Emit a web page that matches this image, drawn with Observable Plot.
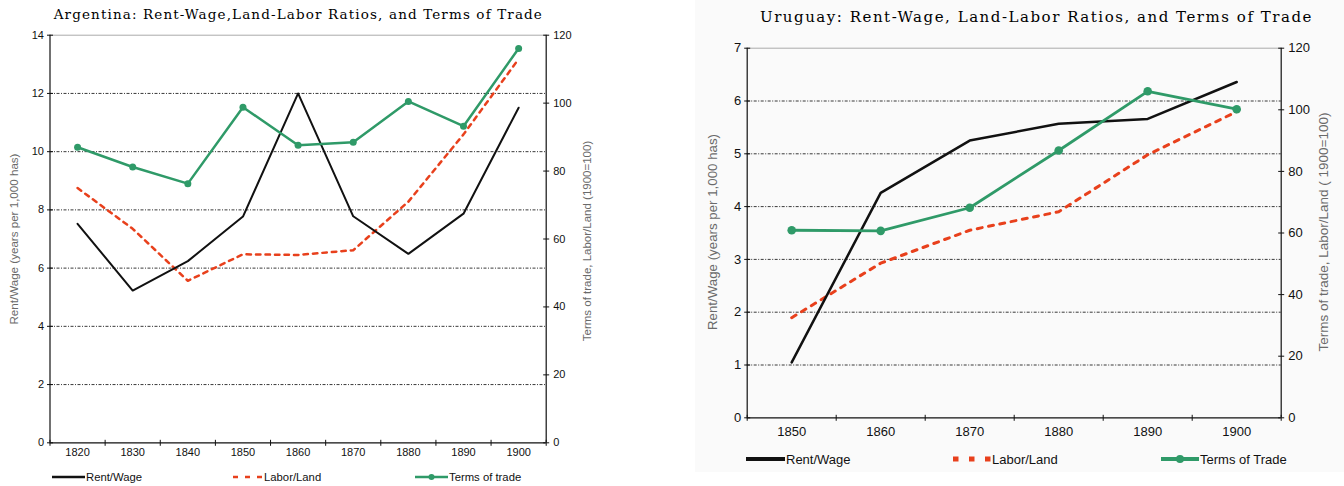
<!DOCTYPE html>
<html><head><meta charset="utf-8">
<script src="https://cdn.jsdelivr.net/npm/d3@7"></script>
<script src="https://cdn.jsdelivr.net/npm/@observablehq/plot@0.6"></script>
<style>
body{margin:0;background:#fff;width:1344px;height:486px;position:relative;overflow:hidden;font-family:"Liberation Sans",Arial,sans-serif;}
.abs{position:absolute;}
.title{font-family:"DejaVu Serif","Liberation Serif",serif;color:#000;white-space:nowrap;line-height:1;}
.leg{position:absolute;display:flex;align-items:center;white-space:nowrap;color:#111;}
.leg svg{display:block;}
.ylab{position:absolute;white-space:nowrap;line-height:1;color:#6a6a6a;transform:translate(-50%,-50%) rotate(-90deg);}
</style></head><body>
<div class="abs" style="left:695px;top:0;width:649px;height:472px;background:#fafafa"></div>
<div id="titleL" class="abs title" style="font-size:13.5px;">Argentina: Rent-Wage,Land-Labor Ratios, and Terms of Trade</div>
<div id="titleR" class="abs title" style="font-size:15px;">Uruguay: Rent-Wage, Land-Labor Ratios, and Terms of Trade</div>
<div id="chartL" class="abs" style="left:0;top:24px;"></div>
<div id="chartR" class="abs" style="left:690px;top:36px;"></div>
<div id="labels"></div>
<div id="legend"></div>
<script>
// ---------- data ----------
const argYears      = [1820, 1830, 1840, 1850, 1860, 1870, 1880, 1890, 1900];
const argRentWage   = [7.52, 5.23, 6.24, 7.77, 12.0, 7.78, 6.49, 7.87, 11.51];
const argLaborLand  = [75.0, 63.0, 47.7, 55.5, 55.3, 56.7, 71.0, 90.8, 113.0];
const argTerms      = [87.0, 81.2, 76.3, 98.8, 87.6, 88.5, 100.5, 93.2, 116.1];
const argLeftTicks  = [0, 2, 4, 6, 8, 10, 12, 14];
const argRightTicks = [0, 20, 40, 60, 80, 100, 120];

const uruYears      = [1850, 1860, 1870, 1880, 1890, 1900];
const uruRentWage   = [1.05, 4.26, 5.25, 5.57, 5.66, 6.36];
const uruLaborLand  = [32.5, 50.2, 60.9, 66.9, 85.4, 99.4];
const uruTerms      = [60.9, 60.7, 68.2, 86.8, 106.0, 100.2];
const uruLeftTicks  = [0, 1, 2, 3, 4, 5, 6, 7];
const uruRightTicks = [0, 20, 40, 60, 80, 100, 120];

const leftLabel = "Rent/Wage (years per 1,000 has)";
const argRightLabel = "Terms of trade, Labor/Land (1900=100)";
const uruRightLabel = "Terms of trade, Labor/Land ( 1900=100)";

const GREEN = "#2f9a68", RED = "#e8401c", BLACK = "#111";

const vline = {draw(ctx, size){const r = Math.sqrt(size/Math.PI); ctx.moveTo(0,-r); ctx.lineTo(0,r);}};
const hline = {draw(ctx, size){const r = Math.sqrt(size/Math.PI); ctx.moveTo(-r,0); ctx.lineTo(r,0);}};

function chart(c){
  const yMax = c.leftTicks[c.leftTicks.length-1];
  const rMax = c.rightTicks[c.rightTicks.length-1];
  const toLeft = v => v * yMax / rMax;
  const x0 = c.years[0] - 5, x1 = c.years[c.years.length-1] + 5;
  const bounds = [...c.years.map(y => y - 5), x1];
  const rows = c.years.map((yr, i) => ({yr, rw: c.rw[i], ll: toLeft(c.ll[i]), tt: toLeft(c.tt[i])}));
  const grid = c.leftTicks.filter(t => t > 0 && t < yMax);
  return Plot.plot({
    width: c.width, height: c.height,
    marginLeft: c.ml, marginRight: c.mr, marginTop: c.mt, marginBottom: c.mb,
    x: {type: "linear", domain: [x0, x1], axis: null},
    y: {domain: [0, yMax], axis: null},
    style: {fontFamily: "'Liberation Sans', Arial, sans-serif", fontSize: c.fs + "px", color: "#111", background: "transparent", overflow: "visible"},
    marks: [
      Plot.ruleY(grid, {stroke: "#222", strokeWidth: 0.9, strokeDasharray: "3,1.5,1,1.5"}),
      Plot.ruleY([yMax], {stroke: "#aaa", strokeWidth: 1}),
      Plot.ruleY([0], {stroke: BLACK, strokeWidth: 1.2}),
      Plot.ruleX([x0, x1], {stroke: BLACK, strokeWidth: 1.2}),
      Plot.dot(c.leftTicks, {x: x0, y: d => d, symbol: hline, r: 3, stroke: BLACK, fill: "none", strokeWidth: 1}),
      Plot.dot(c.rightTicks, {x: x1, y: d => toLeft(d), symbol: hline, r: 3, stroke: BLACK, fill: "none", strokeWidth: 1}),
      Plot.dot(bounds, {x: d => d, y: 0, symbol: vline, r: 3, stroke: BLACK, fill: "none", strokeWidth: 1}),
      Plot.axisY(c.leftTicks, {anchor: "left", tickSize: 0, tickPadding: 6, label: null, tickFormat: d => String(d)}),
      Plot.axisY(c.rightTicks.map(toLeft), {anchor: "right", tickSize: 0, tickPadding: 7, label: null, tickFormat: d => String(Math.round(d * rMax / yMax))}),
      Plot.axisX(c.years, {anchor: "bottom", tickSize: 0, tickPadding: c.xpad, label: null, tickFormat: d => String(d)}),
      Plot.line(rows, {x: "yr", y: "ll", stroke: RED, strokeWidth: c.redW, strokeDasharray: c.dash}),
      Plot.line(rows, {x: "yr", y: "rw", stroke: BLACK, strokeWidth: c.blackW}),
      Plot.line(rows, {x: "yr", y: "tt", stroke: GREEN, strokeWidth: c.greenW}),
      Plot.dot(rows, {x: "yr", y: "tt", fill: GREEN, r: c.dotR})
    ]
  });
}

document.getElementById("chartL").append(chart({
  years: argYears, rw: argRentWage, ll: argLaborLand, tt: argTerms,
  leftTicks: argLeftTicks, rightTicks: argRightTicks,
  width: 600, height: 441, ml: 49.5, mr: 54.3, mt: 10.7, mb: 22.7, fs: 11, xpad: 5,
  redW: 2.5, dash: "4.5,5", blackW: 2, greenW: 2.5, dotR: 3.5
}));
document.getElementById("chartR").append(chart({
  years: uruYears, rw: uruRentWage, ll: uruLaborLand, tt: uruTerms,
  leftTicks: uruLeftTicks, rightTicks: uruRightTicks,
  width: 654, height: 411, ml: 56.7, mr: 63.3, mt: 11.7, mb: 29.7, fs: 13, xpad: 9,
  redW: 3, dash: "5,6.5", blackW: 2.5, greenW: 2.8, dotR: 4.3
}));

// ---------- axis titles ----------
const axisTitles = [
  {text: leftLabel, cx: 14, cy: 239, fs: 11.6},
  {text: argRightLabel, cx: 588, cy: 241, fs: 11.5},
  {text: leftLabel, cx: 713, cy: 232, fs: 13.3},
  {text: uruRightLabel, cx: 1324, cy: 232, fs: 13.5}
];
const labs = document.getElementById("labels");
for (const t of axisTitles){
  const d = document.createElement("div");
  d.className = "ylab";
  d.textContent = t.text;
  d.style.left = t.cx + "px";
  d.style.top = t.cy + "px";
  d.style.fontSize = t.fs + "px";
  labs.append(d);
}

// ---------- titles ----------
function fitTitle(id, left, right, cy){
  const el = document.getElementById(id);
  const n = el.textContent.length;
  const w = el.getBoundingClientRect().width;
  el.style.letterSpacing = ((right - left) - w) / n + "px";
  const r = el.getBoundingClientRect();
  el.style.left = left + "px";
  el.style.top = (cy - r.height / 2) + "px";
}
fitTitle("titleL", 53.7, 543, 15);
fitTitle("titleR", 760, 1313, 17);

// ---------- legends ----------
const legendItems = [
  {x: 52, y: 477, w: 33, kind: "line", color: BLACK, sw: 2.5, label: "Rent/Wage", fs: 11.3},
  {x: 233, y: 477, w: 30, kind: "dash", color: RED, sw: 2.5, dash: "5,7", label: "Labor/Land", fs: 11.3},
  {x: 415, y: 477, w: 33, kind: "dot", color: GREEN, sw: 2.5, r: 3, label: "Terms of trade", fs: 11.3},
  {x: 746, y: 459, w: 39, kind: "line", color: BLACK, sw: 4, label: "Rent/Wage", fs: 13},
  {x: 953, y: 459, w: 38, kind: "dash", color: RED, sw: 5, dash: "5.5,10.5", label: "Labor/Land", fs: 13},
  {x: 1161, y: 459, w: 38, kind: "dot", color: GREEN, sw: 4, r: 4, label: "Terms of Trade", fs: 13}
];
const leg = document.getElementById("legend");
for (const it of legendItems){
  const d = document.createElement("div");
  d.className = "leg";
  d.style.left = it.x + "px";
  d.style.top = (it.y - 9) + "px";
  d.style.height = "18px";
  d.style.fontSize = it.fs + "px";
  const h = 12, cy = 6;
  let inner = `<line x1="0" y1="${cy}" x2="${it.w}" y2="${cy}" stroke="${it.color}" stroke-width="${it.sw}" ${it.kind==="dash" ? `stroke-dasharray="${it.dash}"` : ""}/>`;
  if (it.kind === "dot") inner += `<circle cx="${it.w/2}" cy="${cy}" r="${it.r}" fill="${it.color}"/>`;
  d.innerHTML = `<svg width="${it.w}" height="${h}">${inner}</svg><span style="margin-left:1px">${it.label}</span>`;
  leg.append(d);
}
</script>
</body></html>
